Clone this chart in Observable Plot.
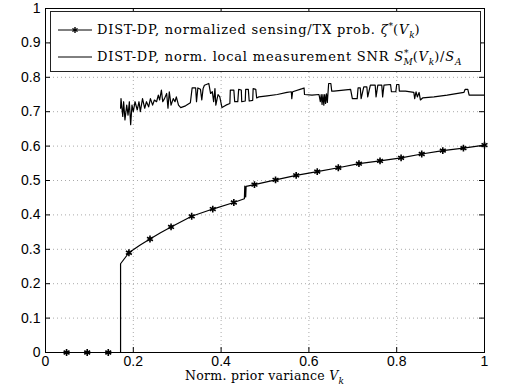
<!DOCTYPE html>
<html>
<head>
<meta charset="utf-8">
<script src="https://cdn.jsdelivr.net/npm/d3@7"></script>
<script src="https://cdn.jsdelivr.net/npm/@observablehq/plot@0.6"></script>
<style>
  body { margin: 0; background: #fff; }
  #wrap { position: relative; width: 509px; height: 388px; }
  #legend { position: absolute; left: 50px; top: 11px; width: 431px; height: 61px; border: 1px solid #222; background: #fff;
            font-family: "DejaVu Serif", serif; font-size: 13px; letter-spacing: 0.8px; color: #000; box-sizing: border-box; }
  .row { position: absolute; left: 6px; white-space: nowrap; display: flex; align-items: center; }
  .row svg { margin-right: 4px; }
  #xlabel { position: absolute; top: 368px; left: 0; width: 529px; text-align: center;
            font-family: "DejaVu Serif", serif; font-size: 12.5px; letter-spacing: 0.3px; }
  sub, sup { font-size: 9px; letter-spacing: 0; }
</style>
</head>
<body>
<div id="wrap"></div>
<script>
// ---- data ----
const xTicks = [0, 0.2, 0.4, 0.6, 0.8, 1];
const yTicks = [0, 0.1, 0.2, 0.3, 0.4, 0.5, 0.6, 0.7, 0.8, 0.9, 1];
const xGrid = [0.2, 0.4, 0.6, 0.8];
const yGrid = [0.1, 0.2, 0.3, 0.4, 0.5, 0.6, 0.7, 0.8, 0.9];

// normalized sensing/TX prob. (markers)
const starX = [0.048, 0.095, 0.143, 0.190, 0.238, 0.286, 0.333, 0.381, 0.429, 0.476, 0.524, 0.571, 0.619, 0.667, 0.714, 0.762, 0.810, 0.857, 0.905, 0.952, 1.0];
const starY = [0, 0, 0, 0.290, 0.330, 0.365, 0.396, 0.417, 0.436, 0.488, 0.502, 0.515, 0.526, 0.537, 0.549, 0.557, 0.566, 0.577, 0.587, 0.594, 0.603];
// same series, line
const curveX = [0.048, 0.095, 0.143, 0.171, 0.171, 0.190, 0.214, 0.238, 0.262, 0.286, 0.310, 0.333, 0.381, 0.429, 0.453, 0.454, 0.456, 0.457, 0.476, 0.524, 0.571, 0.619, 0.667, 0.714, 0.762, 0.810, 0.857, 0.905, 0.952, 1.0];
const curveY = [0, 0, 0, 0, 0.258, 0.290, 0.311, 0.330, 0.348, 0.365, 0.381, 0.396, 0.417, 0.436, 0.447, 0.484, 0.452, 0.483, 0.488, 0.502, 0.515, 0.526, 0.537, 0.549, 0.557, 0.566, 0.577, 0.587, 0.594, 0.603];

// normalized local measurement SNR
const snrX = [0.171,0.172,0.176,0.178,0.181,0.185,0.188,0.191,0.194,0.197,0.200,0.204,0.209,0.213,0.216,0.221,0.226,0.230,0.235,0.239,0.244,0.248,0.253,0.257,0.260,0.264,0.267,0.271,0.276,0.279,0.282,0.286,0.291,0.295,0.298,0.303,0.308,0.319,0.330,0.334,0.342,0.344,0.347,0.353,0.356,0.359,0.362,0.372,0.376,0.380,0.383,0.386,0.388,0.393,0.397,0.402,0.411,0.420,0.421,0.429,0.431,0.438,0.440,0.446,0.447,0.455,0.456,0.462,0.464,0.472,0.473,0.479,0.481,0.486,0.505,0.528,0.550,0.560,0.561,0.563,0.585,0.589,0.590,0.607,0.623,0.626,0.628,0.630,0.632,0.634,0.636,0.638,0.640,0.642,0.645,0.650,0.652,0.657,0.695,0.699,0.710,0.712,0.717,0.719,0.725,0.732,0.734,0.740,0.751,0.753,0.757,0.766,0.768,0.771,0.786,0.788,0.798,0.800,0.805,0.806,0.820,0.839,0.841,0.844,0.847,0.851,0.854,0.859,0.885,0.915,0.953,0.956,0.962,0.965,1.0];
const snrY = [0.710,0.738,0.686,0.729,0.676,0.719,0.690,0.729,0.662,0.719,0.700,0.729,0.705,0.729,0.700,0.738,0.710,0.729,0.714,0.738,0.719,0.734,0.729,0.748,0.734,0.763,0.729,0.738,0.753,0.710,0.758,0.719,0.738,0.729,0.743,0.719,0.712,0.717,0.726,0.769,0.769,0.729,0.769,0.765,0.734,0.767,0.777,0.782,0.753,0.758,0.729,0.767,0.719,0.750,0.743,0.712,0.719,0.724,0.763,0.763,0.729,0.729,0.765,0.763,0.729,0.731,0.765,0.765,0.731,0.733,0.767,0.765,0.740,0.743,0.746,0.750,0.756,0.758,0.738,0.758,0.767,0.769,0.750,0.748,0.750,0.729,0.750,0.721,0.750,0.719,0.750,0.724,0.752,0.727,0.782,0.782,0.760,0.760,0.765,0.738,0.738,0.769,0.769,0.738,0.772,0.772,0.743,0.777,0.777,0.743,0.777,0.777,0.743,0.777,0.779,0.758,0.758,0.779,0.779,0.760,0.760,0.756,0.738,0.758,0.743,0.756,0.734,0.740,0.743,0.748,0.756,0.765,0.765,0.748,0.748];

const curve = curveX.map((x, i) => ({x, y: curveY[i]}));
const stars = starX.map((x, i) => ({x, y: starY[i]}));
const snr = snrX.map((x, i) => ({x, y: snrY[i]}));

const W = 509, H = 388, mT = 8, mB = 36, mL = 45, mR = 25;
const innerH = H - mT - mB, innerW = W - mL - mR;
const font = "'Liberation Sans', Arial, sans-serif";

const chart = Plot.plot({
  width: W, height: H,
  marginTop: mT, marginBottom: mB, marginLeft: mL, marginRight: mR,
  style: {fontFamily: font, fontSize: "14px", color: "#000", background: "#fff"},
  x: {domain: [0, 1]},
  y: {domain: [0, 1]},
  marks: [
    Plot.gridX(xGrid, {stroke: "#aaa", strokeOpacity: 1, strokeDasharray: "1,3"}),
    Plot.gridY(yGrid, {stroke: "#aaa", strokeOpacity: 1, strokeDasharray: "1,3"}),
    Plot.line(snr, {x: "x", y: "y", stroke: "#000", strokeWidth: 1.2}),
    Plot.line(curve, {x: "x", y: "y", stroke: "#000", strokeWidth: 1.2}),
    Plot.dot(stars, {x: "x", y: "y", symbol: "asterisk", r: 3.2, stroke: "#000", strokeWidth: 1.6}),
    Plot.tickX(xTicks, {x: d => d, insetTop: innerH - 5, stroke: "#000"}),
    Plot.tickX(xTicks, {x: d => d, insetBottom: innerH - 5, stroke: "#000"}),
    Plot.tickY(yTicks, {y: d => d, insetLeft: innerW - 5, stroke: "#000"}),
    Plot.tickY(yTicks, {y: d => d, insetRight: innerW - 5, stroke: "#000"}),
    Plot.frame({stroke: "#000", strokeWidth: 1}),
    Plot.axisX({ticks: xTicks, tickSize: 0, tickPadding: 4, tickFormat: d => String(d), label: null, fontSize: 14}),
    Plot.axisY({ticks: yTicks, tickSize: 0, tickPadding: 5, tickFormat: d => String(d), label: null, fontSize: 14})
  ]
});

const wrap = document.getElementById("wrap");
wrap.appendChild(chart);

const sample = (star) => `<svg width="36" height="12" viewBox="0 0 36 12"><line x1="1" y1="6" x2="35" y2="6" stroke="#000" stroke-width="1"/>` +
  (star ? `<g stroke="#000" stroke-width="1.4"><line x1="18" y1="3" x2="18" y2="9"/><line x1="15.4" y1="4.5" x2="20.6" y2="7.5"/><line x1="15.4" y1="7.5" x2="20.6" y2="4.5"/></g>` : "") + `</svg>`;

const legend = document.createElement("div");
legend.id = "legend";
legend.innerHTML =
  `<div class="row" style="top:9px">${sample(true)}<span>DIST-DP, normalized sensing/TX prob. <i>ζ</i><sup>*</sup>(<i>V</i><sub><i>k</i></sub>)</span></div>` +
  `<div class="row" style="top:36px">${sample(false)}<span>DIST-DP, norm. local measurement SNR <i>S</i><sup>*</sup><sub style="margin-left:-5px"><i>M</i></sub>(<i>V</i><sub><i>k</i></sub>)/<i>S</i><sub><i>A</i></sub></span></div>`;
wrap.appendChild(legend);

const xl = document.createElement("div");
xl.id = "xlabel";
xl.innerHTML = `Norm. prior variance <i>V</i><sub><i>k</i></sub>`;
wrap.appendChild(xl);
</script>
</body>
</html>
